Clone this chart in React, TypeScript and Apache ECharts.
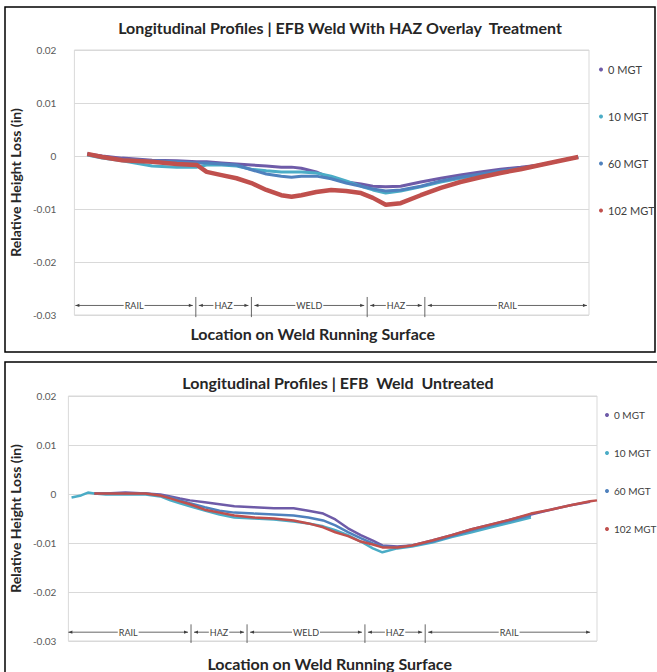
import React, { useEffect, useRef } from 'react';
import * as echarts from 'echarts';

const seriesNames = ['0 MGT', '10 MGT', '60 MGT', '102 MGT'];
const seriesColors = ['#6E5BA8', '#4BACC6', '#4F81BD', '#C0504D'];

// Top chart: EFB Weld With HAZ Overlay Treatment
const topX = [2.5, 5.4, 9.3, 15.1, 19.9, 23.8, 25.7, 28.6, 31.5, 34.4, 37.3, 40.2, 42.2, 44.1, 47.0, 49.9, 52.8, 55.7, 58.0, 60.5, 63.4, 67.3, 71.2, 75.0, 78.9, 82.8, 86.7, 90.5, 94.4, 97.9];
const top0 = [0.0004, 0, -0.0004, -0.0008, -0.0009, -0.0011, -0.0011, -0.0013, -0.0015, -0.0017, -0.0019, -0.0021, -0.0021, -0.0023, -0.003, -0.0042, -0.0049, -0.0053, -0.0057, -0.0058, -0.0057, -0.0049, -0.0042, -0.0036, -0.003, -0.0025, -0.0021, -0.0017, -0.0009, -0.0002];
const top10 = [0.0002, -0.0004, -0.0009, -0.0019, -0.0021, -0.0021, -0.0017, -0.0017, -0.0019, -0.0025, -0.0028, -0.003, -0.003, -0.003, -0.0032, -0.0038, -0.0047, -0.0057, -0.0064, -0.007, -0.0066, -0.0058, -0.0049, -0.0042, -0.0036, -0.003, -0.0025, -0.0017, -0.0009, -0.0002];
const top60 = [0.0004, -0.0002, -0.0006, -0.0009, -0.0011, -0.0013, -0.0013, -0.0015, -0.0017, -0.0026, -0.0034, -0.0038, -0.004, -0.0038, -0.0038, -0.0043, -0.0051, -0.0057, -0.0062, -0.0066, -0.0064, -0.0057, -0.0047, -0.004, -0.0034, -0.0028, -0.0023, -0.0017, -0.0009, -0.0002];
const top102 = [0.0004, -0.0002, -0.0008, -0.0011, -0.0015, -0.0017, -0.003, -0.0036, -0.0042, -0.0051, -0.0064, -0.0074, -0.0077, -0.0074, -0.0068, -0.0064, -0.0066, -0.007, -0.0079, -0.0092, -0.0089, -0.0074, -0.006, -0.0049, -0.004, -0.0032, -0.0025, -0.0017, -0.0009, -0.0002];

// Bottom chart: EFB Weld Untreated
const botX = [0.6, 2.4, 3.7, 4.9, 7.1, 10.8, 14.6, 17.4, 19.3, 21.1, 23.0, 25.8, 28.6, 31.4, 35.1, 38.9, 42.6, 45.4, 48.2, 50.5, 52.9, 55.3, 57.6, 59.4, 62.2, 65.0, 68.8, 72.5, 76.3, 80.0, 83.7, 87.5, 91.2, 95.0, 98.7, 100];
const bot0 = [null, null, null, 0.0001, 0.0001, 0.0003, 0.0001, -0.0001, -0.0005, -0.0009, -0.0013, -0.0017, -0.0021, -0.0025, -0.0027, -0.0029, -0.0029, -0.0034, -0.004, -0.0052, -0.007, -0.0084, -0.0095, -0.0105, -0.0107, -0.0105, -0.0095, -0.0084, -0.0072, -0.0062, -0.0052, -0.0042, -0.0032, -0.0023, -0.0016, null];
const bot10 = [-0.0007, -0.0003, 0.0003, 0.0001, -0.0001, -0.0001, -0.0001, -0.0005, -0.0013, -0.0019, -0.0025, -0.0034, -0.0042, -0.0048, -0.005, -0.0052, -0.0056, -0.006, -0.0066, -0.0074, -0.0084, -0.0097, -0.0111, -0.0119, -0.0111, -0.0107, -0.0099, -0.0088, -0.0078, -0.0068, -0.0058, -0.0048, null, null, null, null];
const bot60 = [null, null, null, 0.0001, 0.0001, 0.0001, 0.0001, -0.0003, -0.0007, -0.0013, -0.0019, -0.0027, -0.0034, -0.0038, -0.004, -0.0042, -0.0044, -0.0048, -0.0054, -0.0064, -0.0078, -0.009, -0.0101, -0.0107, -0.0109, -0.0105, -0.0097, -0.0086, -0.0074, -0.0064, -0.0054, -0.0044, null, null, null, null];
const bot102 = [null, null, null, 0.0001, 0.0001, 0.0001, 0.0001, -0.0003, -0.0009, -0.0015, -0.0021, -0.0032, -0.0038, -0.0044, -0.0048, -0.005, -0.0054, -0.006, -0.0068, -0.0078, -0.0086, -0.0097, -0.0103, -0.0109, -0.0109, -0.0105, -0.0095, -0.0084, -0.0072, -0.0062, -0.0052, -0.004, -0.0032, -0.0023, -0.0015, -0.0013];

const regionLabels = ['RAIL', 'HAZ', 'WELD', 'HAZ', 'RAIL'];
const topRegionBounds = [0.2, 23.6, 34.4, 56.9, 68.1, 99.6];
const botRegionBounds = [0, 23.2, 33.8, 56.1, 67.5, 98.7];
const regionArrowY = -0.0282;
const regionDividerTop = -0.0266;
const regionDividerBottom = -0.0304;

const titles = ['Longitudinal Profiles | EFB Weld With HAZ Overlay  Treatment', 'Longitudinal Profiles | EFB  Weld  Untreated'];
const yAxisName = 'Relative Height Loss (in)';
const xAxisName = 'Location on Weld Running Surface';

const FONT = 'Lato, "Open Sans", sans-serif';

function pairs(xs: number[], ys: (number | null)[]) {
  const out: number[][] = [];
  xs.forEach((x, i) => {
    const y = ys[i];
    if (y !== null && y !== undefined) out.push([x, y]);
  });
  return out;
}

function regionData(bounds: number[]) {
  const d: any[] = [];
  for (let i = 0; i < regionLabels.length; i++) {
    d.push([bounds[i], bounds[i + 1], regionArrowY, i]);
  }
  return d;
}

function renderRegion(params: any, api: any) {
  const x0 = api.value(0);
  const x1 = api.value(1);
  const y = api.value(2);
  const idx = api.value(3);
  const p0 = api.coord([x0, y]);
  const p1 = api.coord([x1, y]);
  const first = idx === 0;
  const last = idx === regionLabels.length - 1;
  const a = p0[0] + (first ? 0 : 3);
  const b = p1[0] - (last ? 0 : 3);
  const yy = p0[1];
  const col = '#404040';
  const children: any[] = [
    { type: 'line', shape: { x1: a, y1: yy, x2: b, y2: yy }, style: { stroke: col, lineWidth: 0.8 } },
    { type: 'polygon', shape: { points: [[a, yy], [a + 4, yy - 1.6], [a + 4, yy + 1.6]] }, style: { fill: col } },
    { type: 'polygon', shape: { points: [[b, yy], [b - 4, yy - 1.6], [b - 4, yy + 1.6]] }, style: { fill: col } },
    {
      type: 'text',
      style: {
        x: (a + b) / 2, y: yy, text: regionLabels[idx], align: 'center', verticalAlign: 'middle',
        fontSize: 9, fontFamily: FONT, fill: '#404040', backgroundColor: '#fff', padding: [0, 1]
      }
    }
  ];
  if (!last) {
    const t = api.coord([x1, regionDividerTop]);
    const bt = api.coord([x1, regionDividerBottom]);
    children.push({ type: 'line', shape: { x1: p1[0], y1: t[1], x2: p1[0], y2: bt[1] }, style: { stroke: col, lineWidth: 0.8 } });
  }
  return { type: 'group', children };
}

export default function App() {
  const ref = useRef<HTMLDivElement>(null);
  useEffect(() => {
    if (!ref.current) return;
    const chart = echarts.init(ref.current, undefined, { renderer: 'svg' });
    const topData = [top0, top10, top60, top102];
    const botData = [bot0, bot10, bot60, bot102];
    const lineSeries: any[] = [];
    seriesNames.forEach((n, i) => {
      lineSeries.push({
        name: n, type: 'line', xAxisIndex: 0, yAxisIndex: 0, showSymbol: false,
        data: pairs(topX, topData[i]), color: seriesColors[i],
        lineStyle: { width: i === 3 ? 4.5 : 3, color: seriesColors[i] }, z: 2 + i
      });
    });
    seriesNames.forEach((n, i) => {
      lineSeries.push({
        name: n, type: 'line', xAxisIndex: 1, yAxisIndex: 1, showSymbol: false,
        data: pairs(botX, botData[i]), color: seriesColors[i],
        lineStyle: { width: 2.5, color: seriesColors[i] }, z: 2 + i
      });
    });
    const yAxisBase = (gridIndex: number, labelMargin: number, nameGap: number) => ({
      type: 'value', gridIndex, min: -0.03, max: 0.02, interval: 0.01,
      axisLine: { show: false }, axisTick: { show: false },
      splitLine: { lineStyle: { color: '#D9D9D9', width: 1 } },
      axisLabel: {
        color: '#595959', fontSize: 10, fontFamily: FONT, margin: labelMargin,
        formatter: (v: number) => (Math.abs(v) < 1e-9 ? '0' : String(+v.toFixed(2)))
      },
      name: yAxisName, nameLocation: 'middle', nameGap,
      nameTextStyle: { fontSize: 14, fontWeight: 'bold', fontFamily: FONT, color: '#262626' }
    });
    const xAxisBase = (gridIndex: number, nameGap: number, padding: number[]) => ({
      type: 'value', gridIndex, min: 0, max: 100,
      axisLine: { show: false }, axisTick: { show: false }, axisLabel: { show: false },
      splitLine: { show: false },
      name: xAxisName, nameLocation: 'middle', nameGap,
      nameTextStyle: { fontSize: 16, fontWeight: 'bold', fontFamily: FONT, color: '#262626', padding }
    });
    const option: any = {
      animation: false,
      backgroundColor: '#fff',
      title: [
        { text: titles[0], left: 335, top: 14, textAlign: 'center', textStyle: { fontSize: 16, fontWeight: 'bold', fontFamily: FONT, color: '#262626' } },
        { text: titles[1], left: 333, top: 369, textAlign: 'center', textStyle: { fontSize: 16, fontWeight: 'bold', fontFamily: FONT, color: '#262626' } }
      ],
      legend: [
        {
          data: seriesNames, orient: 'vertical', left: 594, top: 59, itemGap: 36, icon: 'circle',
          itemWidth: 4, itemHeight: 4, textStyle: { fontSize: 11, fontFamily: FONT, color: '#404040' }
        },
        {
          data: seriesNames, orient: 'vertical', left: 600, top: 405, itemGap: 28, icon: 'circle',
          itemWidth: 4, itemHeight: 4, textStyle: { fontSize: 10, fontFamily: FONT, color: '#404040' }
        }
      ],
      grid: [
        { left: 72, top: 50, width: 517, height: 265, show: true, borderColor: '#D9D9D9', borderWidth: 1 },
        { left: 62, top: 396, width: 535, height: 246, show: true, borderColor: '#D9D9D9', borderWidth: 1 }
      ],
      xAxis: [xAxisBase(0, 10, [0, 38, 0, 0]), xAxisBase(1, 14, [0, 6, 0, 0])],
      yAxis: [yAxisBase(0, 18, 50), yAxisBase(1, 12, 42)],
      series: [
        ...lineSeries,
        {
          type: 'custom', xAxisIndex: 0, yAxisIndex: 0, silent: true, z: 10,
          renderItem: renderRegion, data: regionData(topRegionBounds), encode: { x: [0, 1], y: 2 }
        },
        {
          type: 'custom', xAxisIndex: 1, yAxisIndex: 1, silent: true, z: 10,
          renderItem: renderRegion, data: regionData(botRegionBounds), encode: { x: [0, 1], y: 2 }
        }
      ],
      graphic: [
        { type: 'rect', shape: { x: 5, y: 7, width: 650, height: 345 }, style: { fill: 'none', stroke: '#000', lineWidth: 1.5 }, silent: true },
        { type: 'rect', shape: { x: 5, y: 362, width: 670, height: 330 }, style: { fill: 'none', stroke: '#000', lineWidth: 1.5 }, silent: true }
      ]
    };
    chart.setOption(option);
    return () => chart.dispose();
  }, []);
  return (
    <div
      ref={ref}
      style={{ position: 'fixed', left: 0, top: 0, width: 657, height: 672, background: '#fff' }}
    />
  );
}
